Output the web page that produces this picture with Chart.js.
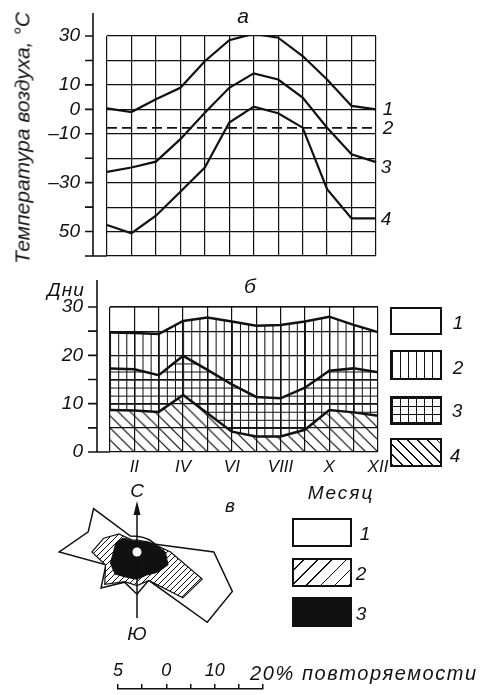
<!DOCTYPE html>
<html><head><meta charset="utf-8">
<script src="https://cdn.jsdelivr.net/npm/chart.js@4"></script>
<style>
html,body{margin:0;padding:0;background:#fff;}
#wrap{position:relative;width:486px;height:695px;overflow:hidden;background:#fff;font-family:"Liberation Sans",Arial,sans-serif;font-style:italic;color:#111;}
canvas{position:absolute;}
.t{position:absolute;transform:translate(-50%,-50%);white-space:nowrap;line-height:1;}
.box{position:absolute;border:2px solid #111;box-sizing:border-box;background-color:#fff;}
</style></head><body><div id="wrap">
<canvas id="ca" width="486" height="270" style="left:0;top:0"></canvas>
<canvas id="cb" width="486" height="215" style="left:0;top:270px"></canvas>
<canvas id="cc" width="240" height="240" style="left:17px;top:432px"></canvas>
<canvas id="cd" width="200" height="40" style="left:100px;top:663px"></canvas>
</div>
<script>
// ---------- data ----------
const months = ['I','II','III','IV','V','VI','VII','VIII','IX','X','XI','XII'];
// panel a: air temperature, °C
const tempTickValues = [30, 10, 0, -10, -30, -50];
const tempTickText = ['30', '10', '0', '–10', '–30', '50'];
const tempAbsMax = [0.4, -1.1, 4.1, 8.8, 19.7, 28.3, 30.9, 29.3, 21.8, 12.2, 1.4, 0.0];
const tempYearMean = [-7.6, -7.6];          // drawn from month I to month XII
const tempMean = [-25.6, -23.8, -21.4, -12.2, -1.4, 8.8, 14.7, 12.2, 4.8, -7.5, -18.4, -21.6];
const tempAbsMin = [-47.3, -50.7, -43.5, -33.7, -23.8, -5.4, 1.1, -1.6, -7.5, -32.7, -44.6, -44.6];
// panel b: days per month (stacked layers, bottom to top)
const daysTickValues = [0, 10, 20, 30];
const days4 = [8.7, 8.6, 8.3, 11.8, 8.0, 4.2, 3.2, 3.2, 4.6, 8.7, 8.2, 7.5];
const days3 = [8.6, 8.5, 7.6, 8.1, 9.0, 9.8, 8.2, 7.9, 8.7, 8.1, 9.1, 9.0];
const days2 = [7.4, 7.5, 8.5, 7.2, 10.8, 13.0, 14.7, 15.2, 13.7, 11.2, 9.0, 8.3];
const days1 = [5.3, 5.4, 5.6, 2.9, 2.2, 3.0, 3.9, 3.7, 3.0, 2.0, 3.7, 5.2];
// panel c: wind rose, % frequency
const directions = ['С','ССВ','СВ','ВСВ','В','ВЮВ','ЮВ','ЮЮВ','Ю','ЮЮЗ','ЮЗ','ЗЮЗ','З','ЗСЗ','СЗ','ССЗ'];
const rose1 = [3.3, 3.3, 3.6, 4.2, 16.0, 21.5, 20.7, 6.4, 8.8, 6.8, 10.6, 7.0, 16.2, 11.0, 12.8, 3.6];
const rose2 = [2.5, 2.5, 3.0, 4.0, 7.0, 14.7, 13.5, 6.4, 7.0, 6.7, 9.5, 7.1, 9.4, 7.5, 5.3, 2.7];
const rose3 = [2.3, 2.3, 3.0, 4.1, 5.9, 7.0, 6.0, 5.2, 5.7, 5.7, 6.5, 6.0, 4.9, 4.8, 4.1, 2.5];
const calm = [0];
// scale bar
const barTickValues = [0, 10, 20];
const barTickText = ['5', '0', '10'];

// ---------- styling ----------
const INK = '#111';
const NONE = 'rgba(0,0,0,0)';
Chart.defaults.font.family = '"Liberation Sans", Arial, sans-serif';
Chart.defaults.font.style = 'italic';
Chart.defaults.color = INK;
Chart.defaults.animation = false;

function axisDeco(o) {
  return {
    id: 'axisDeco',
    afterDraw(chart) {
      const {ctx, chartArea: ca, scales: {y}} = chart;
      const ax = ca.left - o.gap;
      ctx.save();
      ctx.strokeStyle = INK; ctx.lineWidth = 1.6;
      ctx.beginPath();
      ctx.moveTo(ax, o.top); ctx.lineTo(ax, ca.bottom + 0.8);
      y.ticks.forEach(t => {
        const py = y.getPixelForValue(t.value);
        ctx.moveTo(ax - o.tick, py); ctx.lineTo(ax, py);
      });
      ctx.moveTo(ax, ca.bottom); ctx.lineTo(ca.left, ca.bottom);
      ctx.stroke();
      ctx.restore();
    }
  };
}

function hatch(chart, kind) {
  const ca = chart.chartArea;
  if (!ca) return NONE;
  const xs = chart.scales.x, ys = chart.scales.y;
  const cw = xs.getPixelForValue(1) - xs.getPixelForValue(0);
  const ch = ys.getPixelForValue(0) - ys.getPixelForValue(5);
  const T = 24;
  const c = document.createElement('canvas'); c.width = T; c.height = T;
  const g = c.getContext('2d');
  g.strokeStyle = INK; g.lineWidth = 1;
  g.beginPath();
  if (kind === 'v' || kind === 'grid') {
    [0.5, 8.5, 16.5].forEach(x => { g.moveTo(x, 0); g.lineTo(x, T); });
  }
  if (kind === 'grid') {
    [0.5, 8.5, 16.5].forEach(y => { g.moveTo(0, y); g.lineTo(T, y); });
  }
  if (kind === 'diag') {
    g.lineWidth = 1.2;
    for (let k = -24; k <= 24; k += 12) { g.moveTo(k, 0); g.lineTo(k + T, T); }
  }
  g.stroke();
  const p = chart.ctx.createPattern(c, 'repeat');
  p.setTransform(new DOMMatrix().translate(ca.left, ca.bottom).scale(cw / T, ch / T));
  return p;
}

function roseHatch(chart) {
  const s = 6;
  const c = document.createElement('canvas'); c.width = s; c.height = s;
  const g = c.getContext('2d');
  g.fillStyle = '#fff'; g.fillRect(0, 0, s, s);
  g.strokeStyle = INK; g.lineWidth = 1;
  g.beginPath();
  g.moveTo(0, s); g.lineTo(s, 0);
  g.moveTo(-1, 1); g.lineTo(1, -1);
  g.moveTo(s - 1, s + 1); g.lineTo(s + 1, s - 1);
  g.stroke();
  return chart.ctx.createPattern(c, 'repeat');
}

const base = {responsive: false, devicePixelRatio: 1, animation: false,
  plugins: {legend: {display: false}, tooltip: {enabled: false}}};

// ---------- panel a ----------
new Chart(document.getElementById('ca'), {
  type: 'line',
  data: {labels: months, datasets: [
    {label: '1', data: tempAbsMax, borderColor: INK, borderWidth: 2.2, pointRadius: 0, fill: false},
    {label: '2', data: [{x: months[0], y: tempYearMean[0]}, {x: months[11], y: tempYearMean[1]}],
      borderColor: INK, borderWidth: 1.8, borderDash: [10, 5], pointRadius: 0, fill: false},
    {label: '3', data: tempMean, borderColor: INK, borderWidth: 2.2, pointRadius: 0, fill: false},
    {label: '4', data: tempAbsMin, borderColor: INK, borderWidth: 2.2, pointRadius: 0, fill: false}
  ]},
  options: Object.assign({}, base, {
    layout: {padding: {left: 0, top: 36, right: 110, bottom: 14}},
    scales: {
      x: {type: 'category', ticks: {display: false}, border: {display: false},
        grid: {color: INK, lineWidth: 1.2, drawTicks: false}, afterFit: s => { s.height = 0; }},
      y: {min: -60, max: 30, border: {display: false},
        grid: {color: INK, lineWidth: 1.2, drawTicks: true, tickLength: 27, tickColor: NONE},
        ticks: {stepSize: 10, padding: 0, autoSkip: false, font: {size: 19},
          callback: v => { const i = tempTickValues.indexOf(v); return i < 0 ? '' : tempTickText[i]; }},
        afterFit: s => { s.width = 107; s.paddingTop = 0; s.paddingBottom = 0; }}
    }
  }),
  plugins: [axisDeco({gap: 14, tick: 8, top: 13})]
});

// ---------- panel b ----------
new Chart(document.getElementById('cb'), {
  type: 'line',
  data: {labels: months, datasets: [
    {label: '4', data: days4, borderColor: INK, borderWidth: 2.5, pointRadius: 0, fill: 'origin',
      backgroundColor: ctx => hatch(ctx.chart, 'diag')},
    {label: '3', data: days3, borderColor: INK, borderWidth: 2.5, pointRadius: 0, fill: '-1',
      backgroundColor: ctx => hatch(ctx.chart, 'grid')},
    {label: '2', data: days2, borderColor: INK, borderWidth: 2.5, pointRadius: 0, fill: '-1',
      backgroundColor: ctx => hatch(ctx.chart, 'v')},
    {label: '1', data: days1, borderColor: INK, borderWidth: 1.2, pointRadius: 0, fill: false}
  ]},
  options: Object.assign({}, base, {
    layout: {padding: {left: 0, top: 37, right: 108, bottom: 0}},
    scales: {
      x: {type: 'category', border: {display: false},
        grid: {color: INK, lineWidth: 1.2, drawTicks: false},
        ticks: {autoSkip: false, maxRotation: 0, padding: 5, font: {size: 17},
          callback: (v, i) => (i % 2 === 1 ? months[i] : '')},
        afterFit: s => { s.height = 33; }},
      y: {stacked: true, min: 0, max: 30, border: {display: false},
        grid: {color: INK, lineWidth: 1.2, drawTicks: true, tickLength: 27, tickColor: NONE},
        ticks: {stepSize: 5, padding: 0, autoSkip: false, font: {size: 19},
          callback: v => (daysTickValues.indexOf(v) < 0 ? '' : String(v))},
        afterFit: s => { s.width = 110; s.paddingTop = 0; s.paddingBottom = 0; }}
    }
  }),
  plugins: [axisDeco({gap: 13, tick: 9, top: 10})]
});

// ---------- panel c: wind rose ----------
const roseDeco = {
  id: 'roseDeco',
  afterDatasetsDraw(chart) {
    const r = chart.scales.r, ctx = chart.ctx;
    const cx = r.xCenter, cy = r.yCenter;
    ctx.save();
    ctx.strokeStyle = INK; ctx.fillStyle = INK; ctx.lineWidth = 1.5;
    ctx.beginPath();
    ctx.moveTo(cx, cy - 6); ctx.lineTo(cx, cy - 40);
    ctx.moveTo(cx, cy + 6); ctx.lineTo(cx, cy + 66);
    ctx.stroke();
    ctx.beginPath();
    ctx.moveTo(cx, cy - 51); ctx.lineTo(cx - 3.5, cy - 37); ctx.lineTo(cx + 3.5, cy - 37); ctx.closePath();
    ctx.fill();
    ctx.restore();
  }
};
new Chart(document.getElementById('cc'), {
  type: 'radar',
  data: {labels: directions, datasets: [
    {label: '1', data: rose1, order: 4, borderColor: INK, borderWidth: 1.5, backgroundColor: '#fff', fill: true, pointRadius: 0},
    {label: '2', data: rose2, order: 3, borderColor: INK, borderWidth: 1.2, backgroundColor: ctx => roseHatch(ctx.chart), fill: true, pointRadius: 0},
    {label: '3', data: rose3, order: 2, borderColor: INK, borderWidth: 1, backgroundColor: INK, fill: true, pointRadius: 0},
    {label: 'штиль', data: calm, order: 1, showLine: false, pointRadius: 4.5, pointBorderWidth: 0, pointBackgroundColor: '#fff'}
  ]},
  options: Object.assign({}, base, {
    layout: {padding: 0},
    scales: {r: {min: 0, max: 25, grid: {display: false}, angleLines: {display: false},
      ticks: {display: false}, pointLabels: {display: false}}}
  }),
  plugins: [roseDeco]
});

// ---------- scale bar ----------
new Chart(document.getElementById('cd'), {
  type: 'line',
  data: {datasets: []},
  options: Object.assign({}, base, {
    layout: {padding: {left: 18, right: 37, top: 0, bottom: 0}},
    scales: {
      x: {type: 'linear', position: 'top', min: 0, max: 30,
        ticks: {stepSize: 5, padding: 2, font: {size: 18}, maxRotation: 0,
          callback: v => { const i = barTickValues.indexOf(v); return i < 0 ? '' : barTickText[i]; }},
        grid: {drawOnChartArea: false, drawTicks: true, tickLength: 5, color: INK, lineWidth: 1.5},
        border: {display: true, color: INK, width: 1.5},
        afterFit: s => { s.height = 26; }},
      y: {display: false}
    }
  })
});

// ---------- text and legend boxes ----------
const wrap = document.getElementById('wrap');
function txt(s, x, y, size, ls) {
  const d = document.createElement('div');
  d.className = 't'; d.textContent = s;
  d.style.left = x + 'px'; d.style.top = y + 'px'; d.style.fontSize = size + 'px';
  if (ls) d.style.letterSpacing = ls + 'px';
  wrap.appendChild(d); return d;
}
function box(x0, y0, x1, y1, bg) {
  const d = document.createElement('div');
  d.className = 'box';
  d.style.left = x0 + 'px'; d.style.top = y0 + 'px';
  d.style.width = (x1 - x0) + 'px'; d.style.height = (y1 - y0) + 'px';
  if (bg) d.style.backgroundImage = bg;
  wrap.appendChild(d); return d;
}
const yTitle = txt('Температура воздуха, °С', 22, 138, 21);
yTitle.style.transform = 'translate(-50%,-50%) rotate(-90deg)';
txt('а', 243, 15, 21);
txt('1', 388, 108, 19); txt('2', 388, 127, 19); txt('3', 386, 166, 19); txt('4', 386, 218, 19);
txt('Дни', 66, 289, 19, 1); txt('б', 250, 285, 21);
const vLines = 'repeating-linear-gradient(90deg,#111 0 1px,transparent 1px 8px)';
const hLines = 'repeating-linear-gradient(0deg,#111 0 1px,transparent 1px 8px)';
box(390, 307, 442, 335);
box(390, 350, 442, 380, vLines);
box(390, 396, 442, 425, vLines + ',' + hLines);
box(390, 438, 442, 467, 'repeating-linear-gradient(45deg,#111 0 1.2px,transparent 1.2px 7px)');
txt('1', 458, 322, 19); txt('2', 458, 367, 19); txt('3', 457, 410, 19); txt('4', 455, 455, 19);
txt('Месяц', 341, 492, 19, 2);
txt('С', 137, 490, 19); txt('в', 230, 505, 19); txt('Ю', 137, 633, 19);
box(292, 518, 352, 547);
box(292, 558, 352, 587, 'repeating-linear-gradient(-45deg,#111 0 1.2px,transparent 1.2px 10px)');
const b3 = box(292, 597, 352, 627); b3.style.backgroundColor = '#111';
txt('1', 365, 533, 19); txt('2', 361, 573, 19); txt('3', 361, 613, 19);
const rul = txt('20% повторяемости', 250, 673, 20, 1.6); rul.style.transform = 'translate(0,-50%)';
</script>
</body></html>
